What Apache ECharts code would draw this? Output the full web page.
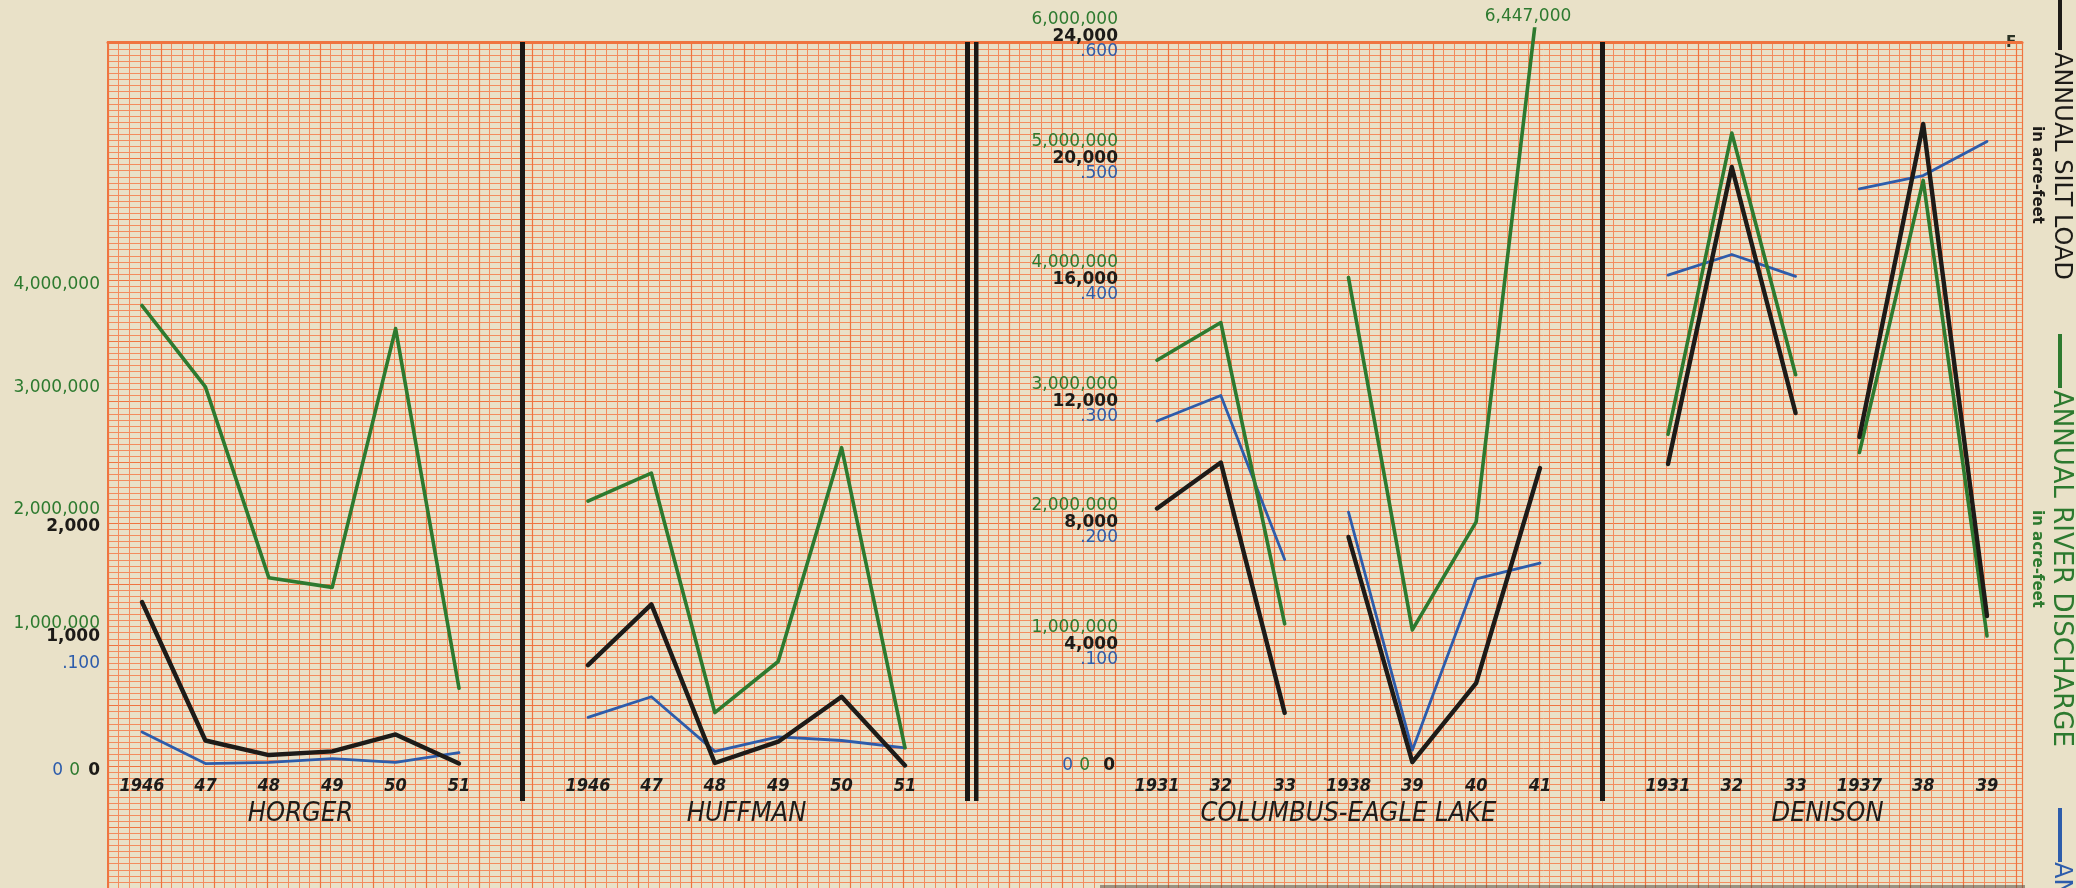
<!DOCTYPE html>
<html>
<head>
<meta charset="utf-8">
<script src="https://cdn.jsdelivr.net/npm/echarts@6/dist/echarts.min.js"></script>
<style>
  html, body { margin: 0; padding: 0; background: #e9e1c8; }
  #chart { width: 2076px; height: 888px; }
</style>
</head>
<body>
<div id="chart"></div>
<script>
// ---- Data: annual silt load (black), annual river discharge (green), third series (blue) ----
const HORGER_YEARS = ['1946', '47', '48', '49', '50', '51'];
const HORGER_SILT = [1350, 210, 90, 120, 260, 20];
const HORGER_DISCHARGE = [3790000, 3120000, 1550000, 1470000, 3600000, 640000];
const HORGER_BLUE = [0.028, 0.002, 0.003, 0.006, 0.003, 0.011];

const HUFFMAN_YEARS = ['1946', '47', '48', '49', '50', '51'];
const HUFFMAN_SILT = [830, 1330, 25, 200, 570, 5];
const HUFFMAN_DISCHARGE = [2180000, 2410000, 440000, 860000, 2620000, 150000];
const HUFFMAN_BLUE = [0.040, 0.057, 0.012, 0.024, 0.021, 0.015];

const COLUMBUS_YEARS = ['1931', '32', '33', '1938', '39', '40', '41'];
const COLUMBUS_SILT = [8480, 9990, 1750, 7540, 130, 2730, 9810];
const COLUMBUS_DISCHARGE = [3340000, 3650000, 1170000, 4020000, 1120000, 2010000, 6447000];
const COLUMBUS_BLUE = [0.284, 0.305, 0.170, 0.209, 0.013, 0.154, 0.167];
const COLUMBUS_BREAK = 3; // 1931-33 and 1938-41 are separate records

const DENISON_YEARS = ['1931', '32', '33', '1937', '38', '39'];
const DENISON_SILT = [9940, 19720, 11620, 10830, 21140, 4940];
const DENISON_DISCHARGE = [2730000, 5210000, 3220000, 2580000, 4820000, 1070000];
const DENISON_BLUE = [0.404, 0.421, 0.403, 0.475, 0.486, 0.514];
const DENISON_BREAK = 3; // 1931-33 and 1937-39

// ---- Tick labels ----
const HH_DISCHARGE_LABELS = ['0', '1,000,000', '2,000,000', '3,000,000', '4,000,000'];
const HH_SILT_LABELS = ['0', '1,000', '2,000'];
const HH_BLUE_LABELS = ['0', '.100'];
const CE_DISCHARGE_LABELS = ['0', '1,000,000', '2,000,000', '3,000,000', '4,000,000', '5,000,000', '6,000,000'];
const CE_SILT_LABELS = ['0', '4,000', '8,000', '12,000', '16,000', '20,000', '24,000'];
const CE_BLUE_LABELS = ['0', '.100', '.200', '.300', '.400', '.500', '.600'];

// ---- Scales ----
const HH_SILT_UNIT = 1000;      // Horger / Huffman silt per grid unit
const CE_SILT_UNIT = 4000;      // Columbus / Denison silt per grid unit
const DISCHARGE_UNIT = 1000000;
const BLUE_UNIT = 0.1;
const TOP_UNITS = 6.066;        // plot height in grid units

const C_BLACK = '#1d1b18';
const C_GREEN = '#2d7a2f';
const C_BLUE = '#2d5cab';
const C_GRID = '#f38c5e';
const C_GRID_MAJOR = '#ef7440';
const NUM_FONT = 'DejaVu Sans, Verdana, sans-serif';
const COND_FONT = '"DejaVu Sans Condensed", "Liberation Sans Narrow", "DejaVu Sans", sans-serif';

const W = 2076, H = 888;
const PLOT_TOP = 29, PLOT_BOTTOM = 122;
const PANELS = [
  { name: 'HORGER', years: HORGER_YEARS, silt: HORGER_SILT, dis: HORGER_DISCHARGE, blue: HORGER_BLUE,
    siltUnit: HH_SILT_UNIT, left: 142, right: W - 459, brk: null, labels: 'hh' },
  { name: 'HUFFMAN', years: HUFFMAN_YEARS, silt: HUFFMAN_SILT, dis: HUFFMAN_DISCHARGE, blue: HUFFMAN_BLUE,
    siltUnit: HH_SILT_UNIT, left: 588, right: W - 905, brk: null, labels: null },
  { name: 'COLUMBUS-EAGLE LAKE', years: COLUMBUS_YEARS, silt: COLUMBUS_SILT, dis: COLUMBUS_DISCHARGE, blue: COLUMBUS_BLUE,
    siltUnit: CE_SILT_UNIT, left: 1157, right: W - 1540, brk: COLUMBUS_BREAK, labels: 'ce' },
  { name: 'DENISON', years: DENISON_YEARS, silt: DENISON_SILT, dis: DENISON_DISCHARGE, blue: DENISON_BLUE,
    siltUnit: CE_SILT_UNIT, left: 1668, right: W - 1987, brk: DENISON_BREAK, labels: null }
];

// label formatter: only listed multiples of the unit get text
function tickFormatter(labels, unit, key) {
  return function (value) {
    const k = Math.round(value / unit);
    if (Math.abs(value - k * unit) > unit * 1e-6 || k < 0 || k >= labels.length) return '';
    return '{' + key + k + '|' + labels[k] + '}';
  };
}
// per-label vertical shift (positive = up) and extra right padding
function richStyles(key, n, color, weight, shifts, pads) {
  const r = {};
  for (let k = 0; k < n; k++) {
    const up = shifts[k] || 0, pr = pads[k] || 0;
    r[key + k] = {
      color: color, fontFamily: NUM_FONT, fontSize: 17, fontWeight: weight,
      padding: up >= 0 ? [0, pr, 2 * up, 0] : [-2 * up, pr, 0, 0]
    };
  }
  return r;
}

const LABEL_SETS = {
  hh: {
    margin: 42,
    silt: { labels: HH_SILT_LABELS, shifts: [-5, 8, -4], pads: [0] },
    dis: { labels: HH_DISCHARGE_LABELS, shifts: [-5, 21, 13, 14, -5], pads: [20] },
    blue: { labels: HH_BLUE_LABELS, shifts: [-5, -19], pads: [37] }
  },
  ce: {
    margin: 39,
    silt: { labels: CE_SILT_LABELS, shifts: [0, 0, 0, 0, 0, 0, 0], pads: [3] },
    dis: { labels: CE_DISCHARGE_LABELS, shifts: [0, 17, 17, 17, 17, 17, 17], pads: [28] },
    blue: { labels: CE_BLUE_LABELS, shifts: [0, -15, -15, -15, -15, -15, -15], pads: [45] }
  }
};

// Ruled paper behind the panels
const grids = [{ left: 108, right: W - 2022, top: 42, bottom: 0 }];
const xAxes = [{
  gridIndex: 0, type: 'value', min: 0, max: 1914, interval: 53,
  position: 'top',
  axisLine: { show: true, onZero: false, lineStyle: { color: C_GRID_MAJOR, width: 3 } },
  axisTick: { show: false }, axisLabel: { show: false },
  splitLine: { show: true, lineStyle: { color: C_GRID_MAJOR, width: 1.2 } },
  minorTick: { show: false, splitNumber: 5 },
  minorSplitLine: { show: true, lineStyle: { color: C_GRID, width: 1 } }
}];
const yAxes = [{
  gridIndex: 0, type: 'value', min: -1, max: 5.9588, interval: 0.5,
  axisLine: { show: true, onZero: false, lineStyle: { color: C_GRID_MAJOR, width: 2 } },
  axisTick: { show: false }, axisLabel: { show: false },
  splitLine: { show: true, lineStyle: { color: C_GRID_MAJOR, width: 1.2 } },
  minorTick: { show: false, splitNumber: 10 },
  minorSplitLine: { show: true, lineStyle: { color: C_GRID, width: 1 } }
}];
const series = [];

function valueAxis(gridIndex, unit, set, key, color, weight, margin) {
  const ax = {
    gridIndex: gridIndex, type: 'value', min: 0, max: unit * TOP_UNITS, interval: unit,
    position: 'left', axisLine: { show: false }, axisTick: { show: false },
    splitLine: { show: false }, axisLabel: { show: false }
  };
  if (set) {
    ax.axisLabel = {
      show: true, margin: margin, showMinLabel: true, showMaxLabel: false,
      formatter: tickFormatter(set.labels, unit, key),
      rich: richStyles(key, set.labels.length, color, weight, set.shifts, set.pads)
    };
  }
  return ax;
}

function segments(arr, brk) {
  if (brk == null) return [arr.slice()];
  return [
    arr.map((v, i) => (i < brk ? v : '-')),
    arr.map((v, i) => (i >= brk ? v : '-'))
  ];
}

PANELS.forEach((p, i) => {
  const g = i + 1;
  grids.push({ left: p.left, right: p.right, top: PLOT_TOP, bottom: PLOT_BOTTOM });
  xAxes.push({
    gridIndex: g, type: 'category', data: p.years, boundaryGap: false,
    axisLine: { show: false }, axisTick: { show: false }, splitLine: { show: false },
    axisLabel: {
      interval: 0, margin: 11, color: '#1e1c1a', fontSize: 18,
      fontFamily: COND_FONT, fontStyle: 'italic', fontWeight: 'bold'
    },
    name: p.name, nameLocation: 'middle', nameGap: 34,
    nameTextStyle: { color: '#1e1c1a', fontSize: 27, fontFamily: COND_FONT, fontStyle: 'italic' }
  });
  const set = p.labels ? LABEL_SETS[p.labels] : null;
  const m = set ? set.margin : 0;
  const siltIdx = yAxes.length;
  yAxes.push(valueAxis(g, p.siltUnit, set && set.silt, 'k', C_BLACK, 'bold', m));
  const disIdx = yAxes.length;
  yAxes.push(valueAxis(g, DISCHARGE_UNIT, set && set.dis, 'g', C_GREEN, 'normal', m));
  const blueIdx = yAxes.length;
  yAxes.push(valueAxis(g, BLUE_UNIT, set && set.blue, 'b', C_BLUE, 'normal', m));

  const layers = [
    { data: p.blue, y: blueIdx, color: C_BLUE, width: 2.8, name: 'blue' },
    { data: p.dis, y: disIdx, color: C_GREEN, width: 3.6, name: 'Annual river discharge' },
    { data: p.silt, y: siltIdx, color: C_BLACK, width: 4.4, name: 'Annual silt load' }
  ];
  layers.forEach(l => {
    segments(l.data, p.brk).forEach(d => {
      series.push({
        type: 'line', name: l.name, xAxisIndex: g, yAxisIndex: l.y, data: d,
        showSymbol: false, symbol: 'none', silent: true, clip: true, connectNulls: false,
        lineStyle: { color: l.color, width: l.width, cap: 'round', join: 'round' }
      });
      if (p.name === 'COLUMBUS-EAGLE LAKE' && l.data === COLUMBUS_DISCHARGE) {
        l.peakSeries = series.length - 1;
      }
    });
  });
  p.layers = layers;
});

// Black panel dividers
const dividers = [
  { x: 520, w: 5 }, { x: 965, w: 5 }, { x: 974, w: 4.5 }, { x: 1600, w: 5 }
].map(d => ({
  type: 'rect', shape: { x: d.x, y: 42, width: d.w, height: 759 },
  style: { fill: '#1a1815' }, silent: true, z: 10
}));

// Rotated legend along the right margin
function vtext(text, x, y, size, color, weight) {
  return {
    type: 'text', x: x, y: y, rotation: -Math.PI / 2, silent: true, z: 10,
    style: { text: text, fill: color, font: weight + ' ' + size + 'px ' + NUM_FONT,
             textAlign: 'left', textVerticalAlign: 'middle' }
  };
}
const legend = [
  { type: 'rect', shape: { x: 2058, y: 0, width: 4, height: 50 }, style: { fill: C_BLACK }, silent: true },
  vtext('ANNUAL SILT LOAD', 2061, 52, 24, C_BLACK, 'normal'),
  vtext('in acre-feet', 2037, 126, 15, C_BLACK, 'bold'),
  { type: 'rect', shape: { x: 2058, y: 334, width: 4, height: 54 }, style: { fill: C_GREEN }, silent: true },
  vtext('ANNUAL RIVER DISCHARGE', 2061, 390, 26, C_GREEN, 'normal'),
  vtext('in acre-feet', 2037, 510, 15, C_GREEN, 'bold'),
  { type: 'rect', shape: { x: 2058, y: 808, width: 4, height: 54 }, style: { fill: C_BLUE }, silent: true },
  vtext('ANNUAL', 2061, 862, 24, C_BLUE, 'normal'),
  { type: 'text', x: 2006, y: 36, silent: true,
    style: { text: 'F', fill: '#2b3326', font: 'bold 15px ' + NUM_FONT } },
  { type: 'rect', shape: { x: 1100, y: 885, width: 925, height: 3 }, style: { fill: '#5a4f44', opacity: 0.55 }, silent: true }
];

const chart = echarts.init(document.getElementById('chart'), null, { renderer: 'canvas' });
chart.setOption({
  animation: false,
  backgroundColor: '#e9e1c8',
  grid: grids,
  xAxis: xAxes,
  yAxis: yAxes,
  series: series,
  graphic: dividers.concat(legend)
});

// Value note above the clipped 1941 discharge peak
const ce = PANELS[2];
const peakLayer = ce.layers[1];
const last = COLUMBUS_DISCHARGE.length - 1;
const peakVal = COLUMBUS_DISCHARGE[last];
const pt = chart.convertToPixel({ seriesIndex: peakLayer.peakSeries }, [last, peakVal]);
const topPt = chart.convertToPixel({ seriesIndex: peakLayer.peakSeries }, [last, DISCHARGE_UNIT * TOP_UNITS]);
chart.setOption({
  graphic: dividers.concat(legend).concat([{
    type: 'text', x: pt[0] - 12, y: topPt[1] - 12, silent: true, z: 10,
    style: { text: peakVal.toLocaleString('en-US'), fill: C_GREEN,
             font: '17px ' + NUM_FONT, textAlign: 'center', textVerticalAlign: 'middle' }
  }])
}, { replaceMerge: ['graphic'] });
</script>
</body>
</html>
